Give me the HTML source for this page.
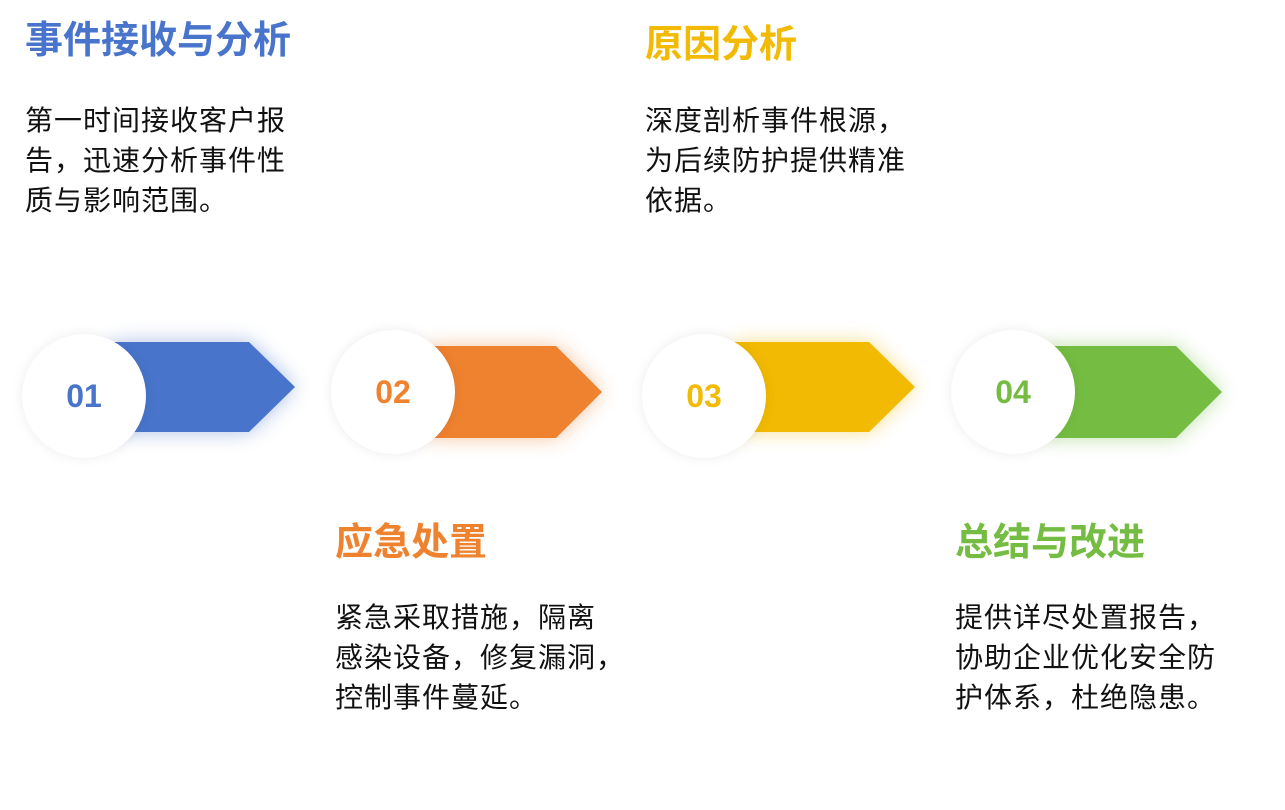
<!DOCTYPE html>
<html><head><meta charset="utf-8"><style>
body{margin:0;width:1285px;height:810px;background:#fff;position:relative;overflow:hidden;font-family:"Liberation Sans","Noto Sans CJK SC",sans-serif}
.t{position:absolute;font-size:38px;font-weight:bold;line-height:44px;white-space:nowrap}
.b{position:absolute;font-size:28px;line-height:40px;color:#111;white-space:nowrap;letter-spacing:1px}
.c{position:absolute;width:124px;height:124px;border-radius:50%;background:#fff;box-shadow:0 0 12px rgba(0,0,0,0.08);display:flex;align-items:center;justify-content:center;font-size:32px;font-weight:bold;font-family:"Liberation Sans",sans-serif}
svg{position:absolute;left:0;top:0}
</style></head><body>
<svg width="1285" height="810">
<defs>
<filter id="g" x="-30%" y="-50%" width="160%" height="200%"><feGaussianBlur stdDeviation="10"/></filter>
</defs>
<g filter="url(#g)" opacity="0.45">
<polygon points="113,342 249,342 295,387 249,432 113,432" fill="#4874cb"/>
<polygon points="430,346 556,346 602,392 556,438 430,438" fill="#ee822f"/>
<polygon points="735,342 869,342 915,387 869,432 735,432" fill="#f2ba02"/>
<polygon points="1045,346 1176,346 1222,392 1176,438 1045,438" fill="#75bd42"/>
</g>
<polygon points="113,342 249,342 295,387 249,432 113,432" fill="#4874cb"/>
<polygon points="430,346 556,346 602,392 556,438 430,438" fill="#ee822f"/>
<polygon points="735,342 869,342 915,387 869,432 735,432" fill="#f2ba02"/>
<polygon points="1045,346 1176,346 1222,392 1176,438 1045,438" fill="#75bd42"/>
</svg>
<div class="c" style="left:22px;top:334px;color:#4874cb">01</div>
<div class="c" style="left:331px;top:330px;color:#ee822f">02</div>
<div class="c" style="left:642px;top:334px;color:#f2ba02">03</div>
<div class="c" style="left:951px;top:330px;color:#75bd42">04</div>

<div class="t" style="left:25px;top:19px;color:#4874cb">事件接收与分析</div>
<div class="b" style="left:25px;top:101px">第一时间接收客户报<br>告，迅速分析事件性<br>质与影响范围。</div>

<div class="t" style="left:645px;top:23px;color:#f2ba02">原因分析</div>
<div class="b" style="left:645px;top:101px">深度剖析事件根源，<br>为后续防护提供精准<br>依据。</div>

<div class="t" style="left:335px;top:521px;color:#ee822f">应急处置</div>
<div class="b" style="left:335px;top:598px">紧急采取措施，隔离<br>感染设备，修复漏洞，<br>控制事件蔓延。</div>

<div class="t" style="left:955px;top:521px;color:#75bd42">总结与改进</div>
<div class="b" style="left:955px;top:598px">提供详尽处置报告，<br>协助企业优化安全防<br>护体系，杜绝隐患。</div>
</body></html>
